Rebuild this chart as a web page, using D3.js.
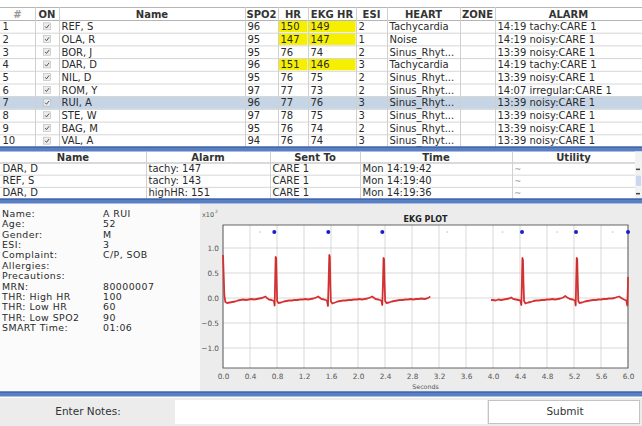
<!DOCTYPE html>
<html><head><meta charset="utf-8">
<script src="https://cdn.jsdelivr.net/npm/d3@7/dist/d3.min.js"></script>
<style>
html,body{margin:0;padding:0;background:#fff;}
svg{display:block;font-family:"DejaVu Sans",sans-serif;}
</style></head>
<body><svg id="c" width="642" height="426"></svg>
<script>
// ---------------- DATA ----------------
const patientNums = [1,2,3,4,5,6,7,8,9,10];
const patientNames = ["REF, S","OLA, R","BOR, J","DAR, D","NIL, D","ROM, Y","RUI, A","STE, W","BAG, M","VAL, A"];
const spo2Values = [96,95,95,96,95,97,96,97,95,94];
const hrValues = [150,147,76,151,76,77,77,78,76,76];
const ekgHrValues = [149,147,74,146,75,73,76,75,74,74];
const esiValues = [2,1,2,3,2,2,3,3,2,3];
const heartValues = ["Tachycardia","Noise","Sinus_Rhyt...","Tachycardia","Sinus_Rhyt...","Sinus_Rhyt...","Sinus_Rhyt...","Sinus_Rhyt...","Sinus_Rhyt...","Sinus_Rhyt..."];
const zoneValues = ["","","","","","","","","",""];
const alarmValues = ["14:19 tachy:CARE 1","14:19 noisy:CARE 1","13:39 noisy:CARE 1","14:19 tachy:CARE 1","13:39 noisy:CARE 1","14:07 irregular:CARE 1","13:39 noisy:CARE 1","13:39 noisy:CARE 1","13:39 noisy:CARE 1","13:39 noisy:CARE 1"];
const topHeaders = ["#","ON","Name","SPO2","HR","EKG HR","ESI","HEART","ZONE","ALARM"];
const selectedPatient = 7;
const highHrThreshold = 100;

const alarmHeaders = ["Name","Alarm","Sent To","Time","Utility"];
const alarmNames = ["DAR, D","REF, S","DAR, D"];
const alarmTexts = ["tachy: 147","tachy: 143","highHR: 151"];
const alarmSentTo = ["CARE 1","CARE 1","CARE 1"];
const alarmTimes = ["Mon 14:19:42","Mon 14:19:40","Mon 14:19:36"];
const alarmUtility = ["~","~","~"];

const infoLabels = ["Name:","Age:","Gender:","ESI:","Complaint:","Allergies:","Precautions:","MRN:","THR: High HR","THR: Low HR","THR: Low SPO2","SMART Time:"];
const infoValues = ["A RUI","52","M","3","C/P, SOB","","","80000007","100","60","90","01:06"];

const xTicks = [0.0,0.4,0.8,1.2,1.6,2.0,2.4,2.8,3.2,3.6,4.0,4.4,4.8,5.2,5.6,6.0];
const yTicks = [1.0,0.5,0.0,-0.5,-1.0];
const ekgSegment1 = [[0.000,0.86],[0.008,0.55],[0.020,0.05],[0.035,-0.08],[0.06,-0.10],[0.10,-0.09],[0.14,-0.08],[0.18,-0.07],[0.22,-0.05],[0.26,-0.04],[0.30,-0.03],[0.34,-0.04],[0.38,-0.03],[0.42,-0.02],[0.46,-0.03],[0.50,-0.02],[0.54,-0.01],[0.58,0.00],[0.61,0.02],[0.63,0.03],[0.65,0.00],[0.68,-0.03],[0.72,-0.04],[0.755,-0.06],[0.765,-0.15],[0.772,0.30],[0.780,0.82],[0.788,0.80],[0.795,0.35],[0.802,-0.06],[0.82,-0.10],[0.86,-0.09],[0.90,-0.07],[0.94,-0.06],[0.98,-0.05],[1.02,-0.05],[1.06,-0.04],[1.10,-0.04],[1.14,-0.03],[1.18,-0.03],[1.22,-0.02],[1.26,-0.03],[1.30,-0.02],[1.34,-0.01],[1.38,0.01],[1.41,0.03],[1.43,0.01],[1.46,-0.02],[1.50,-0.03],[1.54,-0.05],[1.555,-0.16],[1.565,0.35],[1.575,0.86],[1.583,0.82],[1.590,0.30],[1.598,-0.07],[1.62,-0.11],[1.66,-0.09],[1.70,-0.07],[1.74,-0.06],[1.78,-0.05],[1.82,-0.05],[1.86,-0.04],[1.90,-0.04],[1.94,-0.03],[1.98,-0.03],[2.02,-0.02],[2.06,-0.03],[2.10,-0.02],[2.14,-0.01],[2.18,0.01],[2.21,0.03],[2.23,0.01],[2.26,-0.02],[2.30,-0.03],[2.345,-0.05],[2.36,-0.14],[2.37,0.30],[2.378,0.80],[2.386,0.78],[2.394,0.30],[2.402,-0.06],[2.42,-0.10],[2.46,-0.09],[2.50,-0.07],[2.54,-0.06],[2.58,-0.05],[2.62,-0.04],[2.66,-0.04],[2.70,-0.03],[2.74,-0.03],[2.78,-0.02],[2.82,-0.03],[2.86,-0.02],[2.90,-0.02],[2.94,-0.01],[2.98,-0.02],[3.02,-0.01],[3.05,0.01],[3.07,0.03]];
const ekgSegment2 = [[3.97,-0.04],[4.00,-0.04],[4.04,-0.05],[4.08,-0.03],[4.12,-0.04],[4.16,-0.03],[4.20,-0.02],[4.24,-0.01],[4.27,0.01],[4.30,-0.02],[4.34,-0.03],[4.405,-0.05],[4.42,-0.14],[4.428,0.30],[4.436,0.80],[4.444,0.76],[4.452,0.30],[4.46,-0.06],[4.48,-0.11],[4.52,-0.09],[4.56,-0.08],[4.60,-0.06],[4.64,-0.05],[4.68,-0.05],[4.72,-0.04],[4.76,-0.04],[4.80,-0.03],[4.84,-0.03],[4.88,-0.02],[4.92,-0.03],[4.96,-0.02],[5.00,-0.01],[5.04,0.01],[5.07,0.04],[5.10,0.01],[5.14,-0.02],[5.18,-0.03],[5.215,-0.05],[5.225,-0.15],[5.232,0.30],[5.240,0.80],[5.248,0.78],[5.256,0.30],[5.264,-0.06],[5.28,-0.10],[5.32,-0.09],[5.36,-0.07],[5.40,-0.06],[5.44,-0.05],[5.48,-0.04],[5.52,-0.04],[5.56,-0.03],[5.60,-0.03],[5.64,-0.02],[5.68,-0.02],[5.72,-0.01],[5.76,-0.01],[5.80,0.00],[5.84,0.02],[5.87,0.03],[5.90,0.00],[5.94,-0.03],[5.975,-0.05],[5.99,-0.15],[5.998,0.20],[6.00,0.42]];
const rPeakTimes = [0.76,1.56,2.36,4.43,5.23,6.0];
const rPeakLevel = 1.32;
const faintMarkTimes = [0.55,3.32,4.14,4.95,5.77];

const notesLabel = "Enter Notes:";
const submitLabel = "Submit";

// ---------------- LAYOUT ----------------
const svg = d3.select("#c");
const W = 642, H = 426;
const txtCol = "#2a2a2a", gridCol = "#cfcfcf";
const font = "DejaVu Sans";

svg.append("rect").attr("width",W).attr("height",H).attr("fill","#ffffff");

function blueBar(y){
  svg.append("rect").attr("x",0).attr("y",y).attr("width",W).attr("height",4.5).attr("fill","#5a7fc2");
  svg.append("rect").attr("x",0).attr("y",y).attr("width",W).attr("height",1.2).attr("fill","#3b5ea6");
  svg.append("rect").attr("x",0).attr("y",y+4.5).attr("width",W).attr("height",1).attr("fill","#a9bde0");
}

// ---- Top table ----
const topEdges = [0,35,59,245,278,308,356,387,460,495,642];
const topHeaderY = 7, topRowsY0 = 20, topRowsY1 = 147;
const rowScale = d3.scaleBand().domain(patientNums).range([topRowsY0, topRowsY1]);
const rh = rowScale.bandwidth();

const topRows = patientNums.map((n,i)=>({
  n, cells:[String(n),"",patientNames[i],String(spo2Values[i]),String(hrValues[i]),String(ekgHrValues[i]),String(esiValues[i]),heartValues[i],zoneValues[i],alarmValues[i]],
  hr:hrValues[i], ekg:ekgHrValues[i]
}));

const tg = svg.append("g");
tg.selectAll("rect.sel").data(topRows.filter(r=>r.n===selectedPatient)).join("rect")
  .attr("x",0).attr("y",d=>rowScale(d.n)).attr("width",W).attr("height",rh).attr("fill","#c6d5e6");
const hl = [];
topRows.forEach(r=>{ if(r.hr>highHrThreshold) hl.push({n:r.n,c:4}); if(r.ekg>highHrThreshold) hl.push({n:r.n,c:5}); });
tg.selectAll("rect.hl").data(hl).join("rect")
  .attr("x",d=>topEdges[d.c]+0.5).attr("y",d=>rowScale(d.n)+0.5).attr("width",d=>topEdges[d.c+1]-topEdges[d.c]-1).attr("height",rh-1).attr("fill","#f6f000");
const hLines = [topHeaderY, topRowsY0].concat(patientNums.map(n=>rowScale(n)+rh));
tg.selectAll("line.h").data(hLines).join("line")
  .attr("x1",0).attr("x2",W).attr("y1",d=>d+0.5).attr("y2",d=>d+0.5)
  .attr("stroke",(d,i)=>i<2?"#b5b5b5":"#d6d6d6").attr("stroke-width",1);
tg.selectAll("line.v").data(topEdges.slice(1,-1)).join("line")
  .attr("x1",d=>d+0.5).attr("x2",d=>d+0.5).attr("y1",topHeaderY).attr("y2",topRowsY1)
  .attr("stroke","#d0d0d0");
tg.selectAll("text.hd").data(topHeaders).join("text")
  .attr("x",(d,i)=>(topEdges[i]+topEdges[i+1])/2).attr("y",topHeaderY+10.5)
  .attr("text-anchor","middle").attr("font-family",font).attr("font-size",10).attr("font-weight","bold")
  .attr("fill",(d,i)=>i===0?"#999":"#333").text(d=>d);
const cellData = [];
topRows.forEach(r=>r.cells.forEach((t,c)=>{ if(c!==1 && t!=="") cellData.push({n:r.n,c,t}); }));
tg.selectAll("text.cell").data(cellData).join("text")
  .attr("x",d=>topEdges[d.c]+2.5).attr("y",d=>rowScale(d.n)+rh-2.6)
  .attr("font-family",font).attr("font-size",10).attr("fill",txtCol).text(d=>d.t);
const cb = tg.selectAll("g.cb").data(topRows).join("g").attr("transform",d=>`translate(${(topEdges[1]+topEdges[2])/2-3.5},${rowScale(d.n)+rh/2-3.5})`);
cb.append("rect").attr("width",7).attr("height",7).attr("fill","#ececec").attr("stroke","#b8b8b8").attr("stroke-width",0.6);
cb.append("path").attr("d","M1.6,3.6 L3,5.2 L5.6,1.8").attr("fill","none").attr("stroke","#555").attr("stroke-width",1);

blueBar(146.5);

// ---- Alarm table ----
const alEdges = [0,146,270,360,512,635,642];
const alHeaderY = 151.5, alRowsY0 = 162.5, alRowsY1 = 199;
const alIdx = alarmNames.map((d,i)=>i);
const alScale = d3.scaleBand().domain(alIdx).range([alRowsY0, alRowsY1]);
const arh = alScale.bandwidth();
const ag = svg.append("g");
ag.selectAll("line.h").data([alRowsY0].concat(alIdx.slice(0,-1).map(i=>alScale(i)+arh))).join("line")
  .attr("x1",0).attr("x2",alEdges[5]).attr("y1",d=>d+0.5).attr("y2",d=>d+0.5).attr("stroke",(d,i)=>i===0?"#b5b5b5":"#d6d6d6");
ag.selectAll("line.v").data(alEdges.slice(1,-1)).join("line")
  .attr("x1",d=>d+0.5).attr("x2",d=>d+0.5).attr("y1",alHeaderY).attr("y2",alRowsY1).attr("stroke","#d0d0d0");
ag.selectAll("text.hd").data(alarmHeaders).join("text")
  .attr("x",(d,i)=>(alEdges[i]+alEdges[i+1])/2).attr("y",alHeaderY+9.5)
  .attr("text-anchor","middle").attr("font-family",font).attr("font-size",10).attr("font-weight","bold").attr("fill","#333").text(d=>d);
const alCells = [];
alIdx.forEach(i=>[alarmNames[i],alarmTexts[i],alarmSentTo[i],alarmTimes[i],alarmUtility[i]].forEach((t,c)=>alCells.push({i,c,t})));
ag.selectAll("text.cell").data(alCells).join("text")
  .attr("x",d=>alEdges[d.c]+2.5).attr("y",d=>alScale(d.i)+arh-2.6)
  .attr("font-family",font).attr("font-size",d=>d.c===4?8:10).attr("fill",d=>d.c===4?"#999":txtCol).text(d=>d.t);
ag.append("rect").attr("x",alEdges[5]).attr("y",alHeaderY).attr("width",W-alEdges[5]).attr("height",alRowsY1-alHeaderY).attr("fill","#f2f2f2");
ag.append("rect").attr("x",alEdges[5]+1).attr("y",alScale(1)+1).attr("width",5).attr("height",arh-2).attr("fill","#c9d8ee");
ag.selectAll("rect.arr").data([0,2]).join("rect").attr("x",alEdges[5]+1).attr("y",d=>alScale(d)+arh/2).attr("width",4).attr("height",1.5).attr("fill","#444");

blueBar(198.5);

// ---- Info panel ----
svg.append("rect").attr("x",0).attr("y",204).attr("width",200).attr("height",188).attr("fill","#fbfbfb");
svg.append("rect").attr("x",200).attr("y",204).attr("width",442).attr("height",188).attr("fill","#ececec");
const infoY = d3.scaleLinear().domain([0,infoLabels.length-1]).range([217,331]);
const ig = svg.append("g").attr("font-family",font).attr("font-size",9.4).attr("letter-spacing",0.45).attr("fill",txtCol);
ig.selectAll("text.lab").data(infoLabels).join("text").attr("x",2).attr("y",(d,i)=>infoY(i)).text(d=>d);
ig.selectAll("text.val").data(infoValues).join("text").attr("x",103).attr("y",(d,i)=>infoY(i)).text(d=>d);

// ---- EKG plot ----
const x = d3.scaleLinear().domain([0,6]).range([223,628]);
const y = d3.scaleLinear().domain([-1.4,1.46]).range([368,225]);
const pg = svg.append("g");
pg.append("rect").attr("x",x(0)).attr("y",y(1.46)).attr("width",x(6)-x(0)).attr("height",y(-1.4)-y(1.46)).attr("fill","#fff");
pg.selectAll("line.gx").data(xTicks).join("line")
  .attr("x1",d=>x(d)).attr("x2",d=>x(d)).attr("y1",y(1.46)).attr("y2",y(-1.4)).attr("stroke",gridCol).attr("stroke-width",0.8);
pg.selectAll("line.gy").data(yTicks).join("line")
  .attr("x1",x(0)).attr("x2",x(6)).attr("y1",d=>y(d)).attr("y2",d=>y(d)).attr("stroke",gridCol).attr("stroke-width",0.8);
pg.append("rect").attr("x",x(0)).attr("y",y(1.46)).attr("width",x(6)-x(0)).attr("height",y(-1.4)-y(1.46)).attr("fill","none").attr("stroke","#555").attr("stroke-width",0.9);

const xAxis = d3.axisBottom(x).tickValues(xTicks).tickFormat(d3.format(".1f")).tickSize(0).tickPadding(6);
const gx = pg.append("g").attr("transform",`translate(0,${y(-1.4)})`).call(xAxis);
gx.select(".domain").remove();
gx.selectAll("text").attr("font-family",font).attr("font-size",7.3).attr("fill","#555");
const yAxis = d3.axisLeft(y).tickValues(yTicks).tickFormat(d3.format(".1f")).tickSize(0).tickPadding(4);
const gy = pg.append("g").attr("transform",`translate(${x(0)},0)`).call(yAxis);
gy.select(".domain").remove();
gy.selectAll("text").attr("font-family",font).attr("font-size",7.3).attr("fill","#555");

pg.append("text").attr("x",202).attr("y",217).attr("font-family",font).attr("font-size",6.5).attr("fill","#555").text("x10");
pg.append("text").attr("x",215).attr("y",213).attr("font-family",font).attr("font-size",4.5).attr("fill","#555").text("2");
pg.append("text").attr("x",(x(0)+x(6))/2).attr("y",222).attr("text-anchor","middle").attr("font-family",font).attr("font-size",8).attr("font-weight","bold").attr("fill","#222").text("EKG PLOT");
pg.append("text").attr("x",(x(0)+x(6))/2).attr("y",389).attr("text-anchor","middle").attr("font-family",font).attr("font-size",6.3).attr("fill","#555").text("Seconds");

const line = d3.line().x(d=>x(d[0])).y(d=>y(d[1]));
pg.selectAll("path.ekg").data([ekgSegment1,ekgSegment2]).join("path")
  .attr("d",line).attr("fill","none").attr("stroke","#e43a3a").attr("stroke-width",1.8).attr("stroke-linejoin","round");
pg.selectAll("path.ekg2").data([ekgSegment1,ekgSegment2]).join("path")
  .attr("d",line).attr("fill","none").attr("stroke","#8a1f1f").attr("stroke-width",0.5).attr("stroke-opacity",0.6);
pg.selectAll("circle.f").data(faintMarkTimes).join("circle")
  .attr("cx",d=>x(d)).attr("cy",y(rPeakLevel)).attr("r",1).attr("fill","#d8d8e0");
pg.selectAll("circle.r").data(rPeakTimes).join("circle")
  .attr("cx",d=>x(d)).attr("cy",y(rPeakLevel)).attr("r",2).attr("fill","#1c1cc8");

blueBar(391.5);

// ---- Notes bar ----
svg.append("rect").attr("x",0).attr("y",398).attr("width",W).attr("height",28).attr("fill","#ececec");
svg.append("rect").attr("x",175).attr("y",400).attr("width",312).attr("height",24).attr("fill","#fff");
svg.append("rect").attr("x",488.5).attr("y",400.5).attr("width",151).attr("height",23).attr("fill","#fff").attr("stroke","#c4c4c4");
svg.append("text").attr("x",88).attr("y",415).attr("text-anchor","middle").attr("font-family",font).attr("font-size",10.5).attr("fill","#333").text(notesLabel);
svg.append("text").attr("x",565).attr("y",415).attr("text-anchor","middle").attr("font-family",font).attr("font-size",10.5).attr("fill","#333").text(submitLabel);
</script></body></html>
